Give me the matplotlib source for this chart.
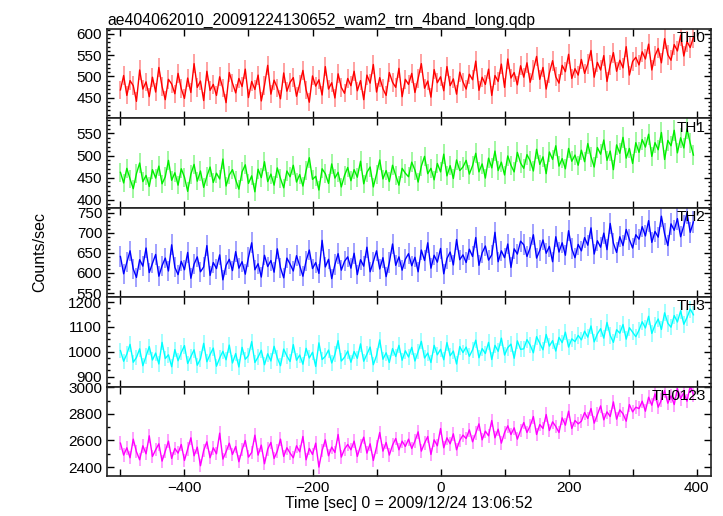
import numpy as np
import matplotlib
matplotlib.use("Agg")
import matplotlib.pyplot as plt
from matplotlib.ticker import MultipleLocator, FixedLocator

plt.rcParams['font.family'] = ['Liberation Sans', 'DejaVu Sans']

# 5 s bins, start of light curve = -500 s
t_start = -500
bin_sec = 5

th0 = [
    468, 502, 455, 490, 478, 441, 515, 470, 487, 452, 498, 463, 521, 476, 445, 493, 482, 459,
    507, 471, 448, 496, 462, 530, 474, 489, 443, 512, 467, 481, 455, 499, 472, 438, 509, 484,
    461, 495, 476, 517, 450, 488, 469, 503, 442, 479, 526, 458, 491, 473, 447, 508, 465, 486,
    497, 453, 482, 514, 468, 439, 501, 477, 492, 456, 523, 470, 485, 449, 506, 474, 460, 495,
    478, 512, 466, 490, 445, 503, 484, 528, 463, 497, 471, 455, 509, 486, 474, 519, 452, 493,
    481, 507, 462, 495, 530, 472, 489, 451, 516, 485, 499, 466, 523, 478, 494, 458, 510, 487,
    470, 505, 492, 536, 467, 498, 481, 517, 455, 502, 488, 529, 474, 541, 496, 509, 480, 525,
    498, 532, 486, 515, 547, 493, 521, 470, 508, 537, 499, 484, 526, 511, 552, 495, 518, 503,
    540, 507, 529, 561, 498, 533, 515, 549, 488, 527, 556, 512, 538, 520, 570, 503, 535, 545,
    527, 558, 541, 576, 515, 549, 566, 532, 589, 551, 538, 575, 560, 597, 548, 582, 568, 592,
]
th1 = [
    462, 438, 471, 447, 425, 459, 483, 441, 455, 430, 468, 449, 476, 436, 452, 489, 444, 461,
    433, 470, 451, 419, 458, 480, 442, 465, 428, 453, 474, 439, 460, 447, 492, 431, 456, 468,
    445, 424, 463, 479, 437, 454, 418, 469, 450, 486, 441, 458, 433, 472, 448, 427, 465, 452,
    478, 440, 457, 431, 466, 495, 446, 453, 422, 470, 459, 437, 481, 449, 462, 429, 455, 473,
    443, 468, 451, 487, 436, 462, 474, 429, 458, 490, 447, 466, 441, 478, 455, 433, 471, 460,
    452, 485, 467, 440, 476, 498, 459, 471, 445, 482, 463, 503, 454, 477, 448, 490, 466, 474,
    489, 458, 477, 505, 463, 481, 449, 494, 472, 510, 466, 485, 456, 499, 478, 463, 507, 483,
    471, 502, 488, 465, 514, 480, 497, 459, 508, 491, 522, 476, 493, 470, 516, 487, 501, 478,
    512, 486, 527, 497, 474, 518, 503, 535, 489, 510, 468, 524, 505, 541, 494, 516, 482, 529,
    507, 536, 519, 548, 498, 529, 513, 552, 491, 534, 522, 557, 506, 540, 517, 560, 528, 501,
]
th2 = [
    641, 598, 627, 655, 610, 589, 633, 617, 662, 601, 624, 646, 592, 618, 637, 605, 670, 614,
    596, 629, 608, 651, 587, 622, 640, 603, 615, 668, 594, 626, 611, 645, 583, 619, 634, 606,
    653, 612, 628, 597, 639, 675, 608, 623, 590, 644, 616, 631, 602, 660, 613, 588, 637, 622,
    605, 643, 618, 592, 630, 657, 611, 626, 599, 681, 615, 634, 586, 621, 648, 607, 629, 640,
    612, 649, 596, 633, 617, 664, 603, 628, 655, 610, 638, 591, 626, 672, 619, 640, 607, 634,
    648, 618, 639, 603, 657, 631, 675, 612, 644, 627, 661, 598, 636, 652, 620, 683, 633, 645,
    626, 659, 641, 688, 619, 650, 667, 632, 645, 701, 628, 655, 638, 672, 614, 660, 647, 679,
    670, 641, 663, 695, 637, 656, 682, 649, 666, 628, 690, 652, 675, 644, 705, 660, 638, 671,
    655, 688, 669, 712, 647, 680, 664, 699, 658, 723, 674, 651, 690, 668, 708, 683, 662, 695,
    684, 715, 692, 730, 676, 703, 689, 741, 697, 668, 722, 706, 735, 690, 718, 749, 701, 727,
]
th3 = [
    1005, 962, 991, 1030, 958, 977, 1012, 944, 983, 1021, 967, 995, 951, 1038, 973, 988, 940, 1009,
    964, 997, 1025, 953, 981, 1008, 946, 972, 1034, 960, 989, 1015, 942, 975, 1002, 968, 1027, 955,
    993, 939, 1018, 970, 985, 1041, 957, 979, 1006, 948, 992, 963, 1022, 976, 944, 1011, 983, 961,
    1029, 966, 987, 950, 1014, 975, 998, 941, 1036, 969, 982, 1007, 955, 990, 1045, 963, 978, 1003,
    958, 1001, 974, 1032, 962, 990, 1019, 948, 985, 1048, 970, 996, 957, 1013, 981, 1026, 966, 1004,
    979, 1018, 963, 1001, 1042, 975, 995, 957, 1026, 988, 1010, 968, 1037, 984, 1003, 951, 1021, 997,
    1019, 982, 1008, 1047, 976, 1013, 993, 1038, 969, 1026, 1002, 1055, 987, 1017, 1031, 974, 1044, 1010,
    1012, 1049, 1027, 996, 1061, 1034, 1008, 1070, 1023, 1045, 1003, 1058, 1037, 1079, 1019, 1052, 1041, 1066,
    1048, 1083, 1059, 1104, 1040, 1072, 1093, 1055, 1118, 1066, 1038, 1089, 1075, 1110, 1051, 1097, 1079, 1061,
    1087, 1121, 1096, 1143, 1074, 1108, 1132, 1090, 1157, 1115, 1099, 1146, 1120, 1165, 1111, 1138, 1172, 1149,
]
th0123 = [
    2580, 2490, 2545, 2470, 2610, 2515, 2455, 2560, 2500, 2635, 2480, 2530, 2575, 2445, 2520, 2595, 2465, 2540,
    2505, 2570, 2450, 2535, 2620, 2485, 2550, 2410, 2525, 2590, 2470, 2545, 2500, 2655, 2460, 2515, 2580, 2495,
    2555, 2440, 2530, 2600, 2475, 2510, 2640, 2490, 2565, 2425, 2535, 2585, 2465, 2520, 2610, 2480, 2545, 2505,
    2470, 2560, 2515, 2630, 2455, 2540, 2495, 2580, 2400, 2525, 2605, 2485, 2550, 2510, 2645, 2475, 2535, 2570,
    2530, 2595, 2480, 2560, 2625, 2505, 2575, 2450, 2550, 2660, 2520, 2585, 2490, 2565, 2615, 2530, 2595, 2555,
    2610, 2540, 2595, 2665, 2520, 2580, 2630, 2495, 2605, 2560, 2690, 2545, 2620, 2575, 2650, 2530, 2600, 2640,
    2615, 2680, 2590, 2655, 2725, 2605, 2670, 2635, 2750, 2620, 2685, 2580, 2660, 2710, 2645, 2695, 2610, 2675,
    2735, 2660, 2710, 2780, 2645, 2720, 2690, 2795, 2675, 2740, 2705, 2660, 2770, 2715, 2820, 2690, 2750, 2725,
    2745, 2810, 2765, 2840, 2730, 2795, 2860, 2755, 2815, 2780, 2890, 2760, 2830, 2800, 2745, 2870, 2815, 2850,
    2840, 2895, 2820, 2925, 2865, 2950, 2850, 2905, 2975, 2880, 2935, 2870, 2990, 2915, 2960, 2895, 3010, 2945,
]

bands = ["TH0", "TH1", "TH2", "TH3", "TH0123"]
rates = [th0, th1, th2, th3, th0123]
colors = ["#ff0000", "#00ee00", "#0000ff", "#00ffff", "#ff00ff"]
ylims = [(401, 612), (382, 584), (540, 762), (860, 1220), (2333, 3005)]
ymajor = [50, 50, 50, 100, 200]
yminor = [10, 10, 10, 25, 100]

fig, axes = plt.subplots(5, 1, sharex=True, figsize=(7.23, 5.16), dpi=100)
fig.subplots_adjust(left=0.148, right=0.983, top=0.944, bottom=0.0775, hspace=0)

for ax, name, y, c, lim, mj, mn in zip(axes, bands, rates, colors, ylims, ymajor, yminor):
    y = np.array(y, dtype=float)
    t = t_start + bin_sec * np.arange(len(y))
    err = np.sqrt(y)  # 1 s Poisson error
    ax.errorbar(t, y, yerr=err, fmt="none", ecolor=c,
                elinewidth=1.3, alpha=0.4)
    ax.plot(t, y, color=c, lw=1.0)
    ax.set_ylim(*lim)
    ax.yaxis.set_major_locator(MultipleLocator(mj))
    ax.yaxis.set_minor_locator(MultipleLocator(mn))
    ax.tick_params(which="both", direction="in", left=True, right=True,
                   top=True, bottom=True, labelsize=11, width=1.0)
    ax.tick_params(which="major", length=5)
    ax.tick_params(which="minor", length=2.5)
    for s in ax.spines.values():
        s.set_linewidth(1.2)
        s.set_color("#222222")
    ax.text(0.992, 0.975, name, transform=ax.transAxes, ha="right", va="top",
            fontsize=11)

axes[-1].set_xlim(-521, 422)
axes[-1].xaxis.set_major_locator(FixedLocator([-400, -200, 0, 200, 400]))
axes[-1].xaxis.set_minor_locator(MultipleLocator(100))
for ax in axes:
    ax.tick_params(axis="x", which="minor", length=5)
axes[-1].set_xlabel("Time [sec] 0 = 2009/12/24 13:06:52", fontsize=11.3, labelpad=1)

axes[0].set_title("ae404062010_20091224130652_wam2_trn_4band_long.qdp",
                  loc="left", fontsize=11.3, pad=3)
fig.text(40 / 723, 1 - 252 / 516, "Counts/sec", rotation=90, ha="center",
         va="center", fontsize=11.5)

fig.savefig("out.png", dpi=100)
